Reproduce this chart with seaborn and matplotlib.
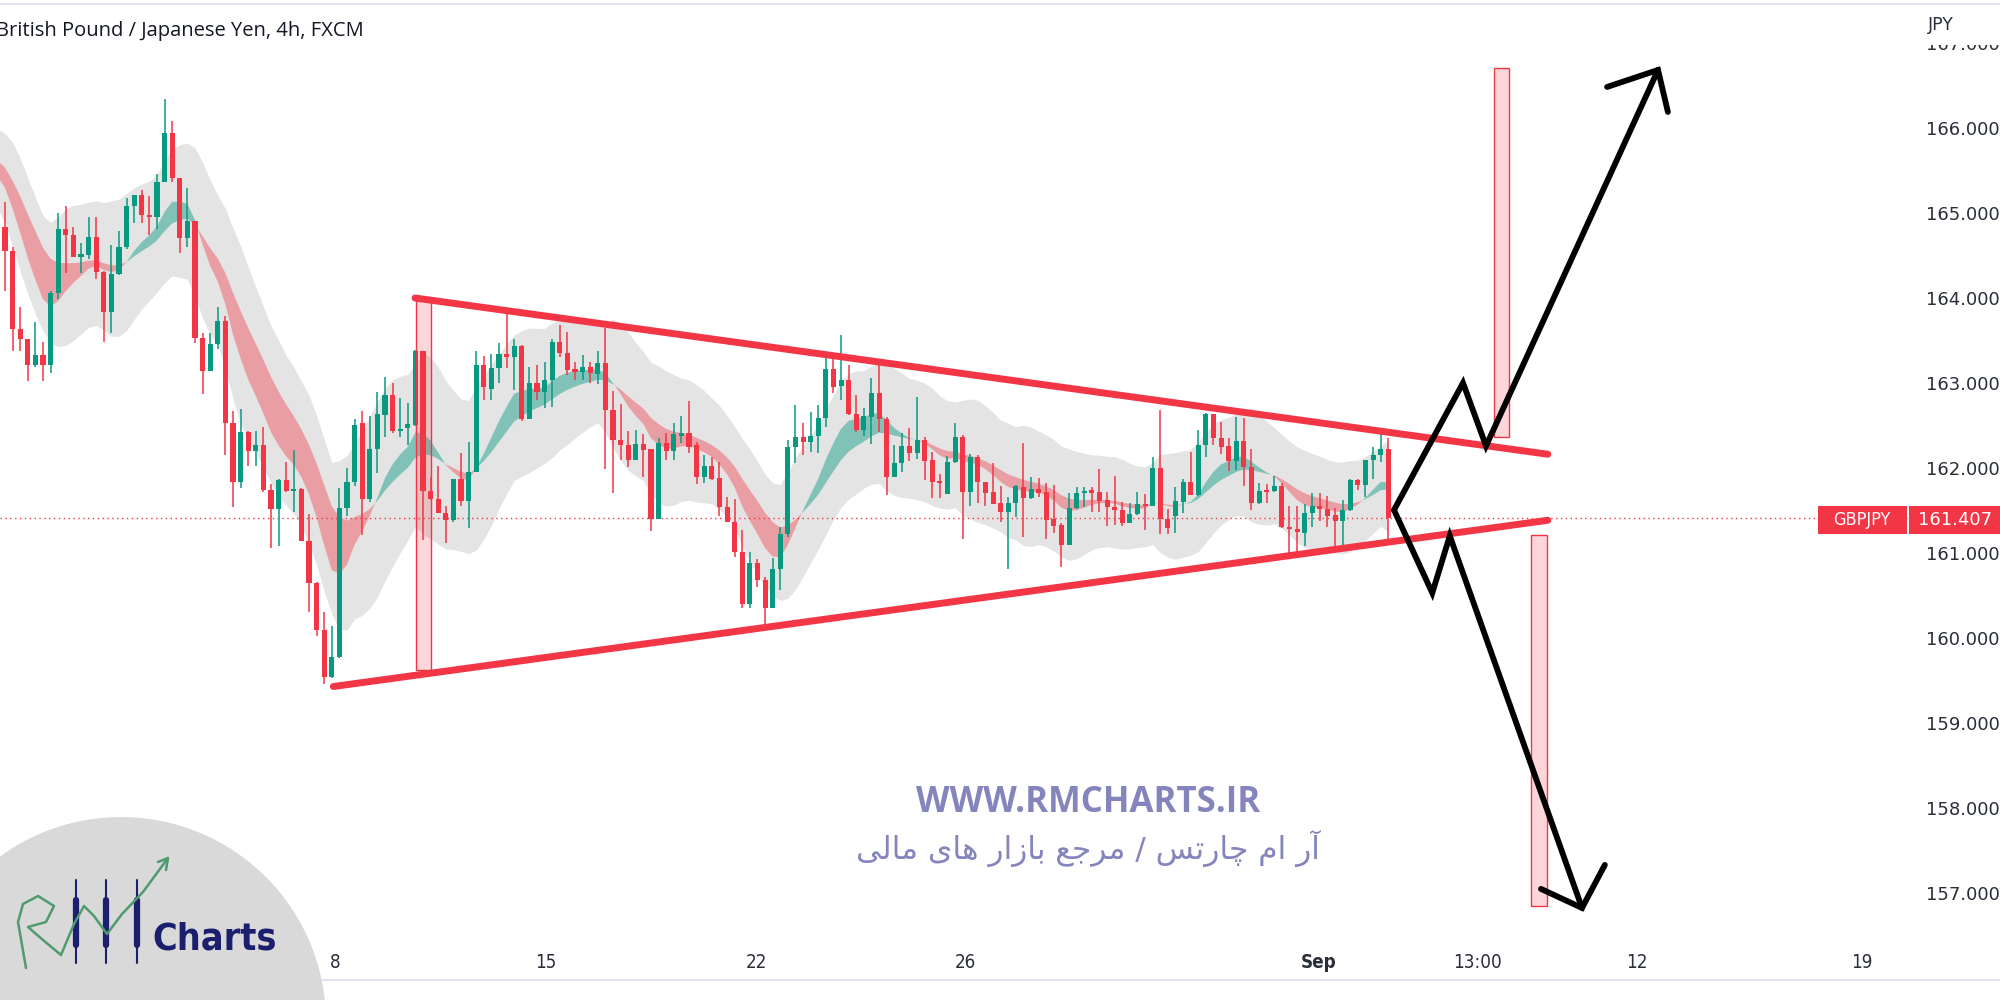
import numpy as np
import pandas as pd
import seaborn as sns
import matplotlib.pyplot as plt
from matplotlib.patches import Rectangle, Circle

# GBPJPY 4h candles, bar 0 = first (cut) bar at the left edge
opens = [164.646, 164.835, 164.552, 163.630, 163.512, 163.205, 163.323, 163.205, 164.055, 164.812,
         164.731, 164.481, 164.504, 164.712, 164.306, 163.833, 164.278, 164.599, 165.081, 165.204,
         164.968, 164.949, 165.364, 165.932, 165.402, 164.703, 164.906, 163.521, 163.134, 163.455,
         163.725, 162.529, 161.825, 162.416, 162.198, 162.260, 161.740, 161.518, 161.858, 161.730,
         161.749, 161.140, 160.639, 160.086, 159.542, 159.769, 161.527, 161.834, 162.520, 161.626,
         162.215, 162.618, 162.854, 162.434, 162.462, 162.501, 163.375, 161.728, 161.626, 161.470,
         161.383, 161.862, 161.611, 161.952, 163.207, 162.920, 163.167, 163.336, 163.297, 163.430,
         162.567, 162.999, 162.893, 163.030, 163.481, 163.344, 163.156, 163.128, 163.179, 163.101,
         163.234, 162.677, 162.324, 162.266, 162.089, 162.277, 162.215, 161.391, 162.293, 162.199,
         162.372, 162.411, 162.266, 161.894, 162.023, 161.874, 161.533, 161.364, 161.011, 160.396,
         160.874, 160.678, 160.345, 160.803, 161.219, 162.247, 162.364, 162.305, 162.372, 162.580,
         163.156, 162.960, 163.031, 162.631, 162.443, 162.599, 162.882, 162.568, 161.886, 162.050,
         162.254, 162.176, 162.325, 162.090, 161.843, 161.690, 162.062, 162.364, 161.717, 162.121,
         161.835, 161.717, 161.580, 161.482, 161.580, 161.776, 161.639, 161.745, 161.717, 161.392,
         161.325, 161.090, 161.521, 161.698, 161.737, 161.717, 161.619, 161.533, 161.502, 161.353,
         161.455, 161.572, 161.549, 161.992, 161.392, 161.431, 161.600, 161.835, 161.678, 162.266,
         162.631, 162.345, 162.255, 162.082, 162.317, 162.004, 161.580, 161.729, 161.729, 161.784,
         161.306, 161.274, 161.235, 161.462, 161.549, 161.509, 161.443, 161.376, 161.502, 161.855,
         161.796, 162.090, 162.149, 162.215]
highs = [164.880, 165.119, 164.599, 163.890, 163.512, 163.710, 163.474, 164.079, 165.001, 165.081,
         164.835, 164.646, 164.953, 164.953, 164.315, 164.623, 164.788, 165.175, 165.204, 165.270,
         165.190, 165.450, 166.338, 166.073, 165.412, 165.284, 164.906, 163.583, 163.583, 163.890,
         163.786, 162.661, 162.685, 162.425, 162.434, 162.482, 161.811, 161.867, 162.071, 162.212,
         161.763, 161.456, 160.653, 160.298, 160.133, 161.763, 162.000, 162.566, 162.669, 162.607,
         162.893, 163.062, 162.991, 162.815, 162.764, 163.380, 163.375, 161.893, 162.018, 161.548,
         161.870, 162.167, 162.305, 163.375, 163.313, 163.336, 163.462, 163.815, 163.509, 163.442,
         163.179, 163.207, 163.246, 163.509, 163.677, 163.599, 163.246, 163.324, 163.246, 163.375,
         163.638, 162.905, 162.748, 162.434, 162.442, 162.395, 162.215, 162.344, 162.403, 162.520,
         162.607, 162.787, 162.300, 162.148, 162.129, 162.070, 161.658, 161.627, 161.266, 161.011,
         160.921, 160.717, 160.933, 161.305, 162.325, 162.737, 162.521, 162.658, 162.737, 163.286,
         163.286, 163.560, 163.207, 162.854, 162.697, 163.058, 163.207, 162.599, 162.266, 162.411,
         162.462, 162.835, 162.364, 162.188, 161.925, 162.137, 162.529, 162.384, 162.160, 162.148,
         161.835, 162.058, 161.784, 161.650, 161.796, 162.294, 161.894, 161.874, 161.815, 161.796,
         161.353, 161.698, 161.768, 161.768, 161.768, 161.980, 161.717, 161.902, 161.600, 161.580,
         161.717, 161.690, 162.121, 162.678, 161.509, 161.768, 161.862, 162.188, 162.443, 162.639,
         162.631, 162.541, 162.345, 162.592, 162.580, 162.215, 161.823, 161.807, 161.902, 161.815,
         161.549, 161.549, 161.572, 161.698, 161.706, 161.666, 161.521, 161.619, 161.862, 161.862,
         162.090, 162.239, 162.404, 162.345]
lows = [164.600, 164.079, 163.370, 163.370, 163.016, 163.181, 163.016, 163.110, 163.985, 164.292,
        164.481, 164.292, 164.457, 164.221, 163.474, 163.583, 164.268, 164.575, 164.882, 164.882,
        164.741, 164.812, 165.355, 165.364, 164.528, 164.599, 163.465, 162.860, 163.134, 163.394,
        162.151, 161.536, 161.763, 162.023, 162.023, 161.716, 161.054, 161.078, 161.716, 161.480,
        161.140, 160.298, 160.024, 159.448, 159.519, 159.755, 161.433, 161.787, 161.207, 161.600,
        161.932, 162.364, 162.403, 162.364, 162.266, 162.495, 161.148, 161.620, 161.460, 161.109,
        161.360, 161.550, 161.285, 161.950, 162.795, 162.795, 162.991, 163.167, 162.913, 162.550,
        162.567, 162.795, 162.697, 162.717, 163.300, 163.089, 163.030, 163.030, 162.991, 162.983,
        161.979, 161.697, 162.089, 162.011, 162.089, 161.893, 161.258, 161.390, 162.089, 162.089,
        162.285, 162.167, 161.807, 161.815, 161.854, 161.431, 161.364, 160.952, 160.345, 160.345,
        160.599, 160.137, 160.345, 160.560, 161.188, 162.058, 162.148, 162.188, 162.168, 162.474,
        162.882, 162.796, 162.619, 162.423, 162.372, 162.278, 162.423, 161.678, 161.886, 161.952,
        162.082, 162.097, 161.854, 161.647, 161.647, 161.690, 162.050, 161.156, 161.548, 161.580,
        161.548, 161.572, 161.364, 160.803, 161.423, 161.188, 161.627, 161.658, 161.156, 161.235,
        160.835, 161.090, 161.509, 161.533, 161.482, 161.482, 161.313, 161.325, 161.313, 161.345,
        161.443, 161.266, 161.549, 161.219, 161.219, 161.235, 161.470, 161.678, 161.666, 162.121,
        162.266, 162.160, 161.964, 161.972, 161.784, 161.502, 161.572, 161.588, 161.717, 161.286,
        160.972, 160.972, 161.078, 161.306, 161.376, 161.306, 161.031, 161.070, 161.494, 161.737,
        161.651, 161.862, 162.070, 161.156]
closes = [164.835, 164.552, 163.630, 163.512, 163.205, 163.323, 163.205, 164.055, 164.812, 164.731,
          164.481, 164.514, 164.712, 164.306, 163.833, 164.278, 164.599, 165.081, 165.204, 164.968,
          164.949, 165.364, 165.932, 165.402, 164.703, 164.906, 163.521, 163.134, 163.455, 163.725,
          162.529, 161.825, 162.416, 162.198, 162.260, 161.740, 161.518, 161.858, 161.730, 161.745,
          161.140, 160.639, 160.086, 159.542, 159.769, 161.527, 161.834, 162.505, 161.626, 162.215,
          162.630, 162.854, 162.434, 162.450, 162.509, 163.375, 161.728, 161.626, 161.462, 161.383,
          161.862, 161.611, 161.952, 163.207, 162.952, 163.167, 163.336, 163.297, 163.430, 162.567,
          162.999, 162.893, 163.030, 163.481, 163.344, 163.148, 163.128, 163.179, 163.109, 163.226,
          162.677, 162.324, 162.266, 162.089, 162.277, 162.207, 161.391, 162.293, 162.199, 162.395,
          162.411, 162.246, 161.885, 162.023, 161.862, 161.533, 161.364, 161.011, 160.396, 160.874,
          160.678, 160.345, 160.803, 161.219, 162.247, 162.356, 162.305, 162.372, 162.580, 163.156,
          162.952, 163.031, 162.631, 162.443, 162.607, 162.882, 162.568, 161.886, 162.050, 162.254,
          162.176, 162.325, 162.082, 161.835, 161.823, 162.070, 162.364, 161.717, 162.121, 161.835,
          161.697, 161.572, 161.482, 161.588, 161.784, 161.639, 161.745, 161.697, 161.384, 161.313,
          161.090, 161.521, 161.698, 161.729, 161.706, 161.611, 161.533, 161.502, 161.345, 161.455,
          161.572, 161.549, 161.992, 161.392, 161.286, 161.611, 161.835, 161.678, 162.266, 162.631,
          162.345, 162.247, 162.082, 162.317, 162.004, 161.580, 161.729, 161.717, 161.784, 161.306,
          161.274, 161.247, 161.470, 161.549, 161.509, 161.431, 161.376, 161.502, 161.855, 161.796,
          162.090, 162.149, 162.215, 161.407]

last_price = 161.407
price_ticks = [157, 158, 159, 160, 161, 162, 163, 164, 165, 166, 167]
time_ticks = [44.4, 72.2, 99.8, 127.4, 173.9, 194.7, 215.7, 245.3]
time_labels = ['8', '15', '22', '26', 'Sep', '13:00', '12', '19']

# ribbon level where it enters at the left edge
ribbon_start = [165.50, 165.66]

# drawings, in (bar index, price)
upper_x, upper_y = [54.95, 204.0], [163.995, 162.157]
lower_x, lower_y = [44.2, 204.0], [159.424, 161.380]
box_x0 = [55.1, 196.9, 201.8]
box_x1 = [57.0, 198.9, 203.9]
box_lo = [159.616, 162.36, 156.84]
box_hi = [163.995, 166.70, 161.207]
zig_up_x = [183.76, 192.84, 195.87, 218.5]
zig_up_y = [161.501, 162.996, 162.254, 166.678]
head_up_x = [211.8, 218.5, 219.8]
head_up_y = [166.478, 166.678, 166.184]
zig_dn_x = [183.76, 188.8, 191.1, 208.5]
zig_dn_y = [161.501, 160.525, 161.196, 156.819]
head_dn_x = [203.1, 208.5, 211.5]
head_dn_y = [157.043, 156.819, 157.325]

GREEN = '#089981'
RED = '#f23645'
TXT = '#2a2e39'

sns.set_theme(style='white')
plt.rcParams['font.family'] = ['DejaVu Sans']

df = pd.DataFrame({'o': opens, 'h': highs, 'l': lows, 'c': closes})
df['i'] = np.arange(len(df))
df['up'] = df.c >= df.o


def ema(vals, span, seed):
    a = 2.0 / (span + 1)
    out = []
    y = seed
    for v in vals:
        y = y + a * (v - y)
        out.append(y)
    return np.array(out)


fast = ema(ema(df.c, 6, ribbon_start[0]), 4, ribbon_start[0])
slow = ema(ema(df.c, 13, ribbon_start[1]), 4, ribbon_start[1])
prev_c = df.c.shift(1).fillna(df.o)
tr = np.maximum(df.h, prev_c) - np.minimum(df.l, prev_c)
atr = ema(ema(tr, 10, 0.4), 4, 0.4)
mid = (fast + slow) / 2

fig = plt.figure(figsize=(20, 10), dpi=100)
fig.patch.set_facecolor('white')
ax = fig.add_axes([0, 0.06, 1913 / 2000, 0.936])
ax.set_facecolor('white')

# gray envelope and the red / teal ribbon
ax.fill_between(df.i, mid - 1.2 * atr, mid + 1.2 * atr, color='#e4e4e4', lw=0, zorder=1)
ax.fill_between(df.i, fast, slow, where=fast <= slow, interpolate=True, color=RED, alpha=0.4, lw=0, zorder=2)
ax.fill_between(df.i, fast, slow, where=fast >= slow, interpolate=True, color=GREEN, alpha=0.45, lw=0, zorder=2)

# candles
cols = np.where(df.up, GREEN, RED)
ax.vlines(df.i, df.l, df.h, colors=cols, lw=1.1, zorder=3)
body = np.maximum((df.c - df.o).abs(), 0.018)
ax.bar(df.i, body, bottom=np.minimum(df.o, df.c), width=0.66, color=cols, lw=0, zorder=4)

ax.axhline(last_price, color=RED, lw=1, ls=(0, (1, 2.5)), zorder=2.5)

for x0, x1, lo, hi in zip(box_x0, box_x1, box_lo, box_hi):
    ax.add_patch(Rectangle((x0, lo), x1 - x0, hi - lo, facecolor=(0.95, 0.21, 0.27, 0.2),
                           edgecolor=RED, lw=1, zorder=5))

sns.lineplot(x=upper_x, y=upper_y, ax=ax, color=RED, lw=5, sort=False, estimator=None, zorder=6)
sns.lineplot(x=lower_x, y=lower_y, ax=ax, color=RED, lw=5, sort=False, estimator=None, zorder=6)
for xs, ys in [(zig_up_x, zig_up_y), (head_up_x, head_up_y), (zig_dn_x, zig_dn_y), (head_dn_x, head_dn_y)]:
    sns.lineplot(x=xs, y=ys, ax=ax, color='black', lw=4.2, sort=False, estimator=None, zorder=7)
for l in ax.lines[-4:]:
    l.set_solid_joinstyle('miter')

ax.set_xlim(0.342, 252.05)
ax.set_ylim(156.442, 167.454)
ax.set_xlabel('')
ax.set_ylabel('')
for s in ax.spines.values():
    s.set_visible(False)

ax.yaxis.tick_right()
ax.set_yticks(price_ticks)
ax.set_yticklabels([f'{p:.3f}' for p in price_ticks], fontsize=13, color=TXT)
ax.tick_params(axis='y', length=0, pad=9)
ax.set_xticks(time_ticks)
ax.set_xticklabels(time_labels, fontsize=13.5, color=TXT, fontstretch='condensed')
ax.tick_params(axis='x', length=0, pad=9)
ax.get_xticklabels()[4].set_fontweight('bold')

# frame lines, header
fig.add_artist(Rectangle((0.955, 0.9555), 0.045, 0.04, transform=fig.transFigure,
                         facecolor='white', edgecolor='none', zorder=10))
fig.add_artist(plt.Line2D([0, 1], [0.996, 0.996], color='#e0e3eb', lw=1.5, zorder=11))
fig.add_artist(plt.Line2D([0, 1], [0.02, 0.02], color='#e0e3eb', lw=1.5))
fig.text(0.9705, 0.975, 'JPY', fontsize=12.5, color=TXT, ha='center', va='center', zorder=12)
fig.text(-0.002, 0.969, 'British Pound / Japanese Yen, 4h, FXCM', fontsize=14.5, color='#131722',
         ha='left', va='center', family=['Open Sans', 'DejaVu Sans'])

# last price labels
fig.add_artist(Rectangle((1818 / 2000, 1 - 534 / 1000), 89 / 2000, 28 / 1000, transform=fig.transFigure,
                         facecolor=RED, edgecolor='none', zorder=5))
fig.add_artist(Rectangle((1909 / 2000, 1 - 534 / 1000), 91 / 2000, 28 / 1000, transform=fig.transFigure,
                         facecolor=RED, edgecolor='none', zorder=5))
fig.text(1862 / 2000, 1 - 520 / 1000, 'GBPJPY', fontsize=13, color='white', ha='center', va='center',
         zorder=6, fontstretch='condensed')
fig.text(1955 / 2000, 1 - 520 / 1000, f'{last_price:.3f}', fontsize=13, color='white', ha='center',
         va='center', zorder=6)

# watermark (Persian line shaped by hand, matplotlib has no Arabic shaping)
forms = {
    'آ': ('\uFE81', '\uFE82', None, None), 'ا': ('\uFE8D', '\uFE8E', None, None),
    'ر': ('\uFEAD', '\uFEAE', None, None), 'ز': ('\uFEAF', '\uFEB0', None, None),
    'م': ('\uFEE1', '\uFEE2', '\uFEE3', '\uFEE4'), 'ت': ('\uFE95', '\uFE96', '\uFE97', '\uFE98'),
    'س': ('\uFEB1', '\uFEB2', '\uFEB3', '\uFEB4'), 'ج': ('\uFE9D', '\uFE9E', '\uFE9F', '\uFEA0'),
    'ع': ('\uFEC9', '\uFECA', '\uFECB', '\uFECC'), 'ب': ('\uFE8F', '\uFE90', '\uFE91', '\uFE92'),
    'ه': ('\uFEE9', '\uFEEA', '\uFEEB', '\uFEEC'), 'ل': ('\uFEDD', '\uFEDE', '\uFEDF', '\uFEE0'),
    'چ': ('\uFB7A', '\uFB7B', '\uFB7C', '\uFB7D'), 'ی': ('\uFBFC', '\uFBFD', '\uFBFE', '\uFBFF'),
}


def shape(s):
    out = []
    for k, ch in enumerate(s):
        if ch not in forms:
            out.append(ch)
            continue
        iso, fin, ini, med = forms[ch]
        prev = s[k - 1] if k > 0 else ''
        nxt = s[k + 1] if k + 1 < len(s) else ''
        jp = prev in forms and forms[prev][2] is not None
        jn = ini is not None and nxt in forms
        out.append(med if jp and jn else fin if jp else ini if jn else iso)
    return ''.join(out)[::-1]


WM = '#8585bd'
fig.text(1088 / 2000, 1 - 803 / 1000, 'WWW.RMCHARTS.IR', fontsize=25, fontweight='bold', color=WM,
         ha='center', va='center', family=['Open Sans', 'DejaVu Sans'])
fig.text(1088 / 2000, 1 - 848 / 1000, shape('آر ام چارتس / مرجع بازار های مالی'), fontsize=22.5, color=WM,
         ha='center', va='center', family=['DejaVu Sans'])

# logo bottom left
tr_in = fig.dpi_scale_trans
fig.add_artist(Circle((1.21, -0.22), 2.05, transform=tr_in, facecolor='#d9d9d9', edgecolor='none', zorder=8))
NAVY = '#1c1f6e'
for cx in [0.76, 1.06, 1.37]:
    fig.add_artist(plt.Line2D([cx, cx], [0.37, 1.20], transform=tr_in, color=NAVY, lw=1.5, zorder=9))
    fig.add_artist(plt.Line2D([cx, cx], [0.55, 1.00], transform=tr_in, color=NAVY, lw=4.5, zorder=9))
gx = [0.26, 0.18, 0.23, 0.38, 0.54, 0.46, 0.28, 0.43, 0.61, 0.74, 0.84, 0.94, 1.07, 1.22, 1.43, 1.68]
gy = [0.32, 0.78, 0.96, 1.04, 0.94, 0.78, 0.73, 0.60, 0.45, 0.76, 0.94, 0.84, 0.66, 0.86, 1.08, 1.42]
fig.add_artist(plt.Line2D(gx, gy, transform=tr_in, color='#4f9a6f', lw=1.8, zorder=9))
fig.add_artist(plt.Line2D([1.58, 1.68, 1.66], [1.38, 1.42, 1.30], transform=tr_in, color='#4f9a6f',
                          lw=1.8, zorder=9))
fig.text(1.52, 0.50, 'Charts', transform=tr_in, fontsize=27, fontweight='bold', color=NAVY,
         ha='left', va='baseline', zorder=9, fontstretch='condensed')

fig.savefig('out.png', dpi=100, facecolor='white')
